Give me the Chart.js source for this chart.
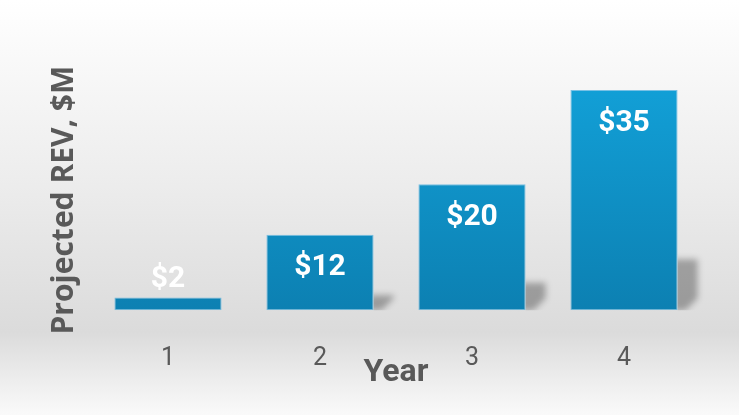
<!DOCTYPE html>
<html>
<head>
<meta charset="utf-8">
<script src="https://cdn.jsdelivr.net/npm/chart.js@4/dist/chart.umd.min.js"></script>
<style>
  body { margin: 0; background: #fff; }
  canvas { display: block; }
</style>
</head>
<body>
<canvas id="grafico" width="739" height="415"></canvas>
<script>
// ---- DADOS ----
const anos = ["1", "2", "3", "4"];
const receita = [2, 12, 20, 35];
const rotulos = ["$2", "$12", "$20", "$35"];

// ---- FUNDO ----
const fundo = {
  id: "fundo",
  beforeDraw(chart) {
    const ctx = chart.ctx;
    const g = ctx.createLinearGradient(0, 0, 0, chart.height);
    g.addColorStop(0, "#ffffff");
    g.addColorStop(0.45, "#ececec");
    g.addColorStop(0.8, "#dbdbdb");
    g.addColorStop(1, "#fafafa");
    ctx.save();
    ctx.fillStyle = g;
    ctx.fillRect(0, 0, chart.width, chart.height);
    ctx.restore();
  }
};

// ---- SOMBRAS DAS BARRAS ----
const sombras = {
  id: "sombras",
  beforeDatasetsDraw(chart) {
    const ctx = chart.ctx;
    chart.getDatasetMeta(0).data.forEach((bar) => {
      const right = bar.x + bar.width / 2;
      const h = Math.min((bar.base - bar.y) * 0.25, 55);
      if (h < 6) return;
      const top = bar.base - h;
      ctx.save();
      ctx.beginPath();
      ctx.rect(right, top - 10, 30, h + 10);
      ctx.clip();
      ctx.filter = "blur(3px)";
      ctx.fillStyle = "rgba(0,0,0,0.3)";
      ctx.beginPath();
      ctx.moveTo(right - 5, top + 4);
      ctx.lineTo(right + 20, top + 4);
      ctx.lineTo(right + 20, bar.base - 12);
      ctx.lineTo(right + 8, bar.base);
      ctx.lineTo(right - 5, bar.base);
      ctx.closePath();
      ctx.fill();
      ctx.restore();
    });
  }
};

// ---- ROTULOS ----
const valores = {
  id: "valores",
  afterDatasetsDraw(chart) {
    const ctx = chart.ctx;
    ctx.save();
    ctx.font = "bold 30px Roboto";
    ctx.fillStyle = "#ffffff";
    ctx.textAlign = "center";
    ctx.textBaseline = "middle";
    chart.getDatasetMeta(0).data.forEach((bar, i) => {
      const h = bar.base - bar.y;
      const y = h > 60 ? bar.y + 33 : bar.y - 18;
      ctx.fillText(rotulos[i], bar.x, y);
    });
    ctx.restore();
  }
};

const ctx = document.getElementById("grafico").getContext("2d");
const chart = new Chart(ctx, {
  type: "bar",
  data: {
    labels: anos,
    datasets: [{
      data: receita,
      backgroundColor: (c) => {
        const area = c.chart.chartArea;
        if (!area) return "#1296cc";
        const g = c.chart.ctx.createLinearGradient(0, area.top, 0, area.bottom);
        g.addColorStop(0, "#129fd6");
        g.addColorStop(1, "#0c80b2");
        return g;
      },
      borderColor: "rgba(90,180,225,0.8)",
      borderWidth: 1,
      borderSkipped: false,
      categoryPercentage: 1,
      barPercentage: 0.705
    }]
  },
  options: {
    responsive: false,
    animation: false,
    layout: { padding: { top: 90, right: 39, left: 46, bottom: 22.8 } },
    plugins: { legend: { display: false }, tooltip: { enabled: false } },
    scales: {
      x: {
        grid: { display: false, drawTicks: false },
        border: { display: false },
        ticks: { color: "#595959", font: { family: "Roboto", size: 25 }, padding: 33.6 },
        title: {
          display: true, text: "Year", color: "#595959",
          font: { family: "Roboto", size: 32, weight: "bold" },
          padding: { top: -53.6, bottom: 0 }
        }
      },
      y: {
        min: 0, max: 35,
        grid: { display: false, drawTicks: false },
        border: { display: false },
        ticks: { display: false },
        title: {
          display: true, text: "Projected REV, $M", color: "#595959",
          font: { family: "Open Sans", size: 30, weight: "bold" },
          padding: { top: 0, bottom: 10 }
        }
      }
    }
  },
  plugins: [fundo, sombras, valores]
});
</script>
</body>
</html>
